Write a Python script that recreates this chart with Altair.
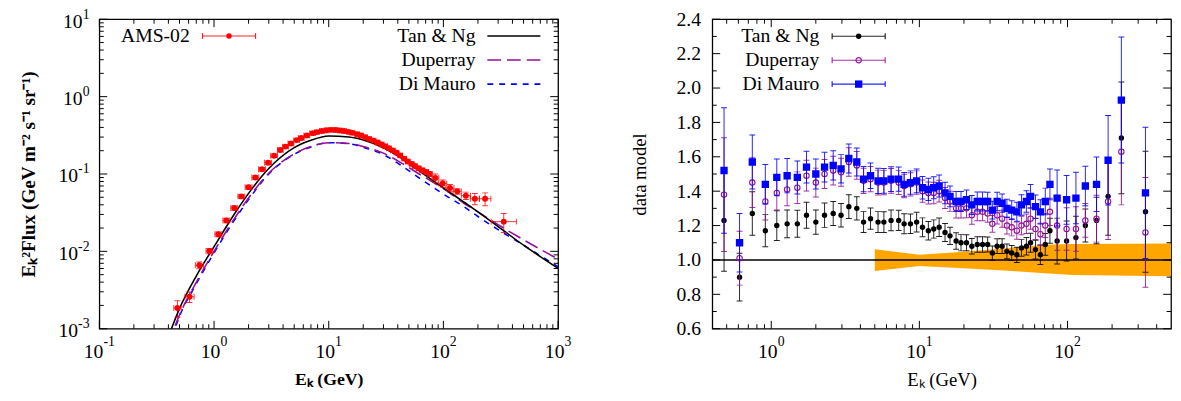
import altair as alt
import pandas as pd

FONT = "Liberation Serif"
RED = "#ff0000"
PURPLE = "#94109a"
BLUE = "#0000ff"
ORANGE = "#ffa500"

# ---------------- data ----------------
energy = [0.480, 0.611, 0.745, 0.912, 1.09, 1.28, 1.50, 1.73, 2.00, 2.29, 2.62, 2.96, 3.34,
          3.78, 4.20, 4.68, 5.26, 5.76, 6.44, 7.25, 7.89, 8.71, 9.58, 10.5, 11.5, 12.5, 13.6,
          14.9, 16.1, 17.7, 19.1, 20.8, 22.6, 24.6, 26.7, 28.9, 31.1, 33.5, 36.2, 39.0, 42.0,
          45.5, 48.9, 52.8, 56.3, 60.8, 65.6, 70.8, 76.1, 85.1, 98.6, 114, 132, 157, 188, 231, 336]
flux = [1.85e-3, 2.59e-3, 6.6e-3, 0.0101, 0.0166, 0.0251, 0.0363, 0.0513, 0.0676, 0.0902,
        0.115, 0.140, 0.172, 0.204, 0.226, 0.248, 0.274, 0.292, 0.314, 0.337, 0.348, 0.359,
        0.368, 0.372, 0.371, 0.365, 0.359, 0.350, 0.340, 0.327, 0.315, 0.300, 0.284, 0.270,
        0.255, 0.241, 0.228, 0.215, 0.202, 0.189, 0.174, 0.158, 0.145, 0.135, 0.127, 0.119,
        0.112, 0.106, 0.100, 0.089, 0.0755, 0.066, 0.0596, 0.0525, 0.0479, 0.0479, 0.0242]
rel_err = [0.24, 0.155, 0.10, 0.08, 0.072, 0.067, 0.065, 0.06, 0.058, 0.056, 0.055, 0.054, 0.053,
           0.052, 0.05, 0.05, 0.05, 0.049, 0.049, 0.048, 0.048, 0.047, 0.047, 0.046, 0.046, 0.045,
           0.045, 0.045, 0.044, 0.043, 0.043, 0.042, 0.042, 0.041, 0.041, 0.040, 0.040, 0.040,
           0.040, 0.041, 0.042, 0.043, 0.045, 0.047, 0.05, 0.052, 0.055, 0.058, 0.062, 0.12,
           0.105, 0.11, 0.08, 0.11, 0.165, 0.19, 0.275]
xerr_dex = [0.032, 0.04, 0.035, 0.03, 0.03, 0.03, 0.03, 0.03, 0.03, 0.03, 0.03, 0.03, 0.03,
            0.025, 0.025, 0.025, 0.025, 0.025, 0.025, 0.025, 0.02, 0.02, 0.02, 0.02, 0.02, 0.02,
            0.02, 0.02, 0.02, 0.02, 0.02, 0.02, 0.02, 0.02, 0.02, 0.02, 0.02, 0.02, 0.02, 0.02,
            0.02, 0.02, 0.02, 0.02, 0.02, 0.02, 0.02, 0.02, 0.02, 0.03, 0.035, 0.035, 0.035,
            0.04, 0.04, 0.05, 0.11]

ratio_tan = [1.23, 0.90, 1.27, 1.17, 1.20, 1.21, 1.21, 1.26, 1.22, 1.26, 1.27, 1.26, 1.31,
             1.30, 1.22, 1.24, 1.22, 1.22, 1.23, 1.23, 1.21, 1.21, 1.22, 1.19, 1.17, 1.18,
             1.19, 1.16, 1.14, 1.11, 1.10, 1.10, 1.08, 1.09, 1.09, 1.09, 1.04, 1.08, 1.08,
             1.05, 1.04, 1.03, 1.07, 1.08, 1.10, 1.06, 1.03, 1.09, 1.17, 1.11, 1.11, 1.13,
             1.20, 1.23, 1.37, 1.71, 1.28]
ratio_dup = [1.38, 1.01, 1.45, 1.34, 1.39, 1.41, 1.42, 1.49, 1.45, 1.50, 1.52, 1.51, 1.57,
             1.55, 1.46, 1.47, 1.45, 1.45, 1.46, 1.45, 1.43, 1.44, 1.45, 1.40, 1.39, 1.39,
             1.40, 1.36, 1.34, 1.30, 1.30, 1.30, 1.26, 1.28, 1.28, 1.27, 1.21, 1.26, 1.24,
             1.20, 1.19, 1.17, 1.20, 1.21, 1.24, 1.18, 1.15, 1.20, 1.28, 1.20, 1.18, 1.18,
             1.23, 1.24, 1.34, 1.63, 1.16]
ratio_dim = [1.52, 1.10, 1.57, 1.44, 1.48, 1.49, 1.48, 1.54, 1.50, 1.54, 1.55, 1.53, 1.59,
             1.57, 1.47, 1.49, 1.46, 1.46, 1.47, 1.47, 1.44, 1.45, 1.46, 1.42, 1.41, 1.42,
             1.43, 1.39, 1.37, 1.34, 1.34, 1.35, 1.32, 1.34, 1.34, 1.34, 1.29, 1.34, 1.33,
             1.30, 1.29, 1.28, 1.32, 1.34, 1.37, 1.31, 1.28, 1.34, 1.44, 1.36, 1.35, 1.36,
             1.43, 1.44, 1.58, 1.93, 1.39]

model_E = [0.4, 0.5, 0.7, 1, 1.5, 2, 3, 5, 7, 10, 15, 20, 30, 40, 60, 100, 150, 200, 300, 500, 1000]
model_tan = [7.9e-4, 1.82e-3, 4.79e-3, 0.01148, 0.0302, 0.0562, 0.1175, 0.2188, 0.2723, 0.309,
             0.3006, 0.2754, 0.2188, 0.1718, 0.1122, 0.0661, 0.0437, 0.0324, 0.0209, 0.0120, 0.00603]
model_dup = [6.3e-4, 1.51e-3, 3.98e-3, 0.0100, 0.0263, 0.0490, 0.1023, 0.182, 0.2265, 0.254,
             0.248, 0.2265, 0.186, 0.148, 0.1023, 0.0646, 0.0422, 0.0324, 0.0221, 0.0141, 0.00794]
model_dim = [5.6e-4, 1.445e-3, 3.80e-3, 0.00955, 0.0251, 0.0468, 0.100, 0.180, 0.224, 0.254,
             0.2455, 0.2213, 0.178, 0.138, 0.0912, 0.055, 0.038, 0.0282, 0.0191, 0.0120, 0.0063]

band_E = [5, 10, 20, 40, 70, 110, 500]
band_lo = [0.935, 0.965, 0.952, 0.937, 0.922, 0.912, 0.905]
band_hi = [1.062, 1.030, 1.047, 1.070, 1.088, 1.092, 1.095]

xl_ticks = [0.1, 1, 10, 100, 1000]
xl_sups = ["-1", "0", "1", "2", "3"]
yl_ticks = [0.001, 0.01, 0.1, 1, 10]
yl_sups = ["-3", "-2", "-1", "0", "1"]
xr_ticks = [1, 10, 100]
xr_sups = ["0", "1", "2"]
yr_ticks = [0.6, 0.8, 1.0, 1.2, 1.4, 1.6, 1.8, 2.0, 2.2, 2.4]
yr_minor = [0.7, 0.9, 1.1, 1.3, 1.5, 1.7, 1.9, 2.1, 2.3]

W, H = 467, 315
MAJ, MNR = 8, 4.5
LBL, SUP = 20, 14


def log_minors(lo_exp, hi_exp, vmin, vmax):
    out = []
    for d in range(lo_exp, hi_exp + 1):
        for k in range(2, 10):
            v = k * 10.0 ** d
            if vmin < v < vmax:
                out.append(v)
    return out


def sup_width(s):
    return sum(4.7 if ch == "-" else 7.0 for ch in s)


def tick_layers(xs, ys, ax_x, ax_y, xmaj, xmin, ymaj, ymin):
    layers = []
    for vals, L in [(xmaj, MAJ), (xmin, MNR)]:
        base = alt.Chart(pd.DataFrame({"v": vals})).mark_rule(color="black", strokeWidth=1)
        xe = alt.X("v:Q", scale=xs, axis=ax_x)
        layers.append(base.encode(x=xe, y=alt.value(H), y2=alt.value(H - L)))
        layers.append(base.encode(x=xe, y=alt.value(0), y2=alt.value(L)))
    for vals, L in [(ymaj, MAJ), (ymin, MNR)]:
        base = alt.Chart(pd.DataFrame({"v": vals})).mark_rule(color="black", strokeWidth=1)
        ye = alt.Y("v:Q", scale=ys, axis=ax_y)
        layers.append(base.encode(y=ye, x=alt.value(0), x2=alt.value(L)))
        layers.append(base.encode(y=ye, x=alt.value(W), x2=alt.value(W - L)))
    return layers


def xpow_labels(xs, ax_x, ticks, sups):
    layers = []
    for v, s in zip(ticks, sups):
        sw = sup_width(s)
        dx = (2 * LBL * 0.5 - sw) / 2
        df = pd.DataFrame({"v": [v]})
        xe = alt.X("v:Q", scale=xs, axis=ax_x)
        layers.append(alt.Chart(df).mark_text(text="10", align="right", baseline="alphabetic", font=FONT,
                                              fontSize=LBL, dx=dx, color="black").encode(
            x=xe, y=alt.value(H + 29.5)))
        layers.append(alt.Chart(df).mark_text(text=s, align="left", baseline="alphabetic", font=FONT,
                                              fontSize=SUP, dx=dx, color="black").encode(
            x=xe, y=alt.value(H + 18)))
    return layers


def ypow_labels(ys, ax_y, ticks, sups, right_edge=-10):
    layers = []
    for v, s in zip(ticks, sups):
        sw = sup_width(s)
        df = pd.DataFrame({"v": [v]})
        ye = alt.Y("v:Q", scale=ys, axis=ax_y)
        layers.append(alt.Chart(df).mark_text(text="10", align="right", baseline="alphabetic", font=FONT,
                                              fontSize=LBL, dy=8.5, color="black").encode(
            x=alt.value(right_edge - sw), y=ye))
        layers.append(alt.Chart(df).mark_text(text=s, align="right", baseline="middle", font=FONT,
                                              fontSize=SUP, dy=-4.5, color="black").encode(
            x=alt.value(right_edge), y=ye))
    return layers


one = pd.DataFrame({"a": [0]})


def ltext(txt, x, y):
    return alt.Chart(one).mark_text(text=txt, align="right", baseline="middle", font=FONT,
                                    fontSize=20, color="black").encode(x=alt.value(x), y=alt.value(y))


def lhrule(x1, x2, y, color, width=1.2, dash=None, opacity=1.0):
    kw = dict(color=color, strokeWidth=width, opacity=opacity)
    if dash:
        kw["strokeDash"] = dash
    return alt.Chart(one).mark_rule(**kw).encode(x=alt.value(x1), x2=alt.value(x2), y=alt.value(y))


def lvrule(x, y1, y2, color, width=1.2, opacity=1.0):
    return alt.Chart(one).mark_rule(color=color, strokeWidth=width, opacity=opacity).encode(
        x=alt.value(x), y=alt.value(y1), y2=alt.value(y2))


def lpoint(x, y, shape, color, filled, size):
    return alt.Chart(one).mark_point(shape=shape, filled=filled, color=color, size=size, opacity=1,
                                     strokeWidth=1.2).encode(x=alt.value(x), y=alt.value(y))


def legend_errbar(x1, x2, y, color, shape, filled, size, opacity=0.85):
    xm = (x1 + x2) / 2
    return [lhrule(x1, x2, y, color, opacity=opacity), lvrule(x1, y - 3, y + 3, color, opacity=opacity),
            lvrule(x2, y - 3, y + 3, color, opacity=opacity), lpoint(xm, y, shape, color, filled, size)]


# ---------------- left panel ----------------
xs_l = alt.Scale(type="log", domain=[0.1, 1000], nice=False)
ys_l = alt.Scale(type="log", domain=[0.001, 10], nice=False)

ams = pd.DataFrame({"E": energy, "F": flux, "rel": rel_err, "dx": xerr_dex})
ams["F_lo"] = ams["F"] * (1 - ams["rel"])
ams["F_hi"] = ams["F"] * (1 + ams["rel"])
ams["E_lo"] = ams["E"] * 10 ** (-ams["dx"])
ams["E_hi"] = ams["E"] * 10 ** (ams["dx"])

ax_xl = alt.Axis(values=xl_ticks, labels=False, title="Eₖ (GeV)", titleFontWeight="bold",
                 titleFontSize=18, minExtent=30, maxExtent=30, titlePadding=13)
ax_yl = alt.Axis(values=yl_ticks, labels=False, title="Eₖ²Flux (GeV m⁻² s⁻¹ sr⁻¹)",
                 titleFontWeight="bold", titleFontSize=19.5, minExtent=46, maxExtent=46,
                 titlePadding=16.5)

mod = pd.DataFrame({"E": model_E, "tan": model_tan, "dup": model_dup, "dim": model_dim})


def XL(f):
    return alt.X(f, scale=xs_l, axis=ax_xl)


def YL(f):
    return alt.Y(f, scale=ys_l, axis=ax_yl)


left_layers = []
left_layers.append(alt.Chart(ams).mark_rule(color=RED, opacity=0.8, clip=True).encode(
    x=XL("E:Q"), y=YL("F_lo:Q"), y2="F_hi:Q"))
for col, color, dash, width in [("dim", BLUE, [6, 6], 1.6), ("dup", PURPLE, [14, 6], 1.6),
                                ("tan", "black", None, 1.6)]:
    kw = dict(color=color, strokeWidth=width, clip=True, interpolate="monotone")
    if dash:
        kw["strokeDash"] = dash
    left_layers.append(alt.Chart(mod).mark_line(**kw).encode(x=XL("E:Q"), y=YL(f"{col}:Q")))
left_layers.append(alt.Chart(ams).mark_rule(color=RED, opacity=0.8, clip=True).encode(
    x=XL("E_lo:Q"), x2="E_hi:Q", y=YL("F:Q")))
for yc in ["F_lo", "F_hi"]:
    left_layers.append(alt.Chart(ams).mark_tick(orient="horizontal", size=6, thickness=1, color=RED,
                                                opacity=0.8, clip=True).encode(
        x=XL("E:Q"), y=YL(f"{yc}:Q")))
for xc in ["E_lo", "E_hi"]:
    left_layers.append(alt.Chart(ams).mark_tick(orient="vertical", size=6, thickness=1, color=RED,
                                                opacity=0.8, clip=True).encode(
        x=XL(f"{xc}:Q"), y=YL("F:Q")))
left_layers.append(alt.Chart(ams).mark_point(shape="circle", filled=True, color=RED, size=36,
                                             opacity=1, clip=True).encode(x=XL("E:Q"), y=YL("F:Q")))

left_layers += tick_layers(xs_l, ys_l, ax_xl, ax_yl, xl_ticks, log_minors(-1, 2, 0.1, 1000),
                           yl_ticks, log_minors(-3, 0, 0.001, 10))
left_layers += xpow_labels(xs_l, ax_xl, xl_ticks, xl_sups)
left_layers += ypow_labels(ys_l, ax_yl, yl_ticks, yl_sups)

# legends left (pixel positions inside the plot frame)
left_layers.append(ltext("AMS-02", 92, 17))
left_layers += legend_errbar(105, 159, 17, RED, "circle", True, 30)
left_layers.append(ltext("Tan & Ng", 383, 17))
left_layers.append(lhrule(395, 449, 17, "black", width=1.6))
left_layers.append(ltext("Duperray", 383, 41.5))
left_layers.append(lhrule(395, 449, 41.5, PURPLE, width=1.6, dash=[14, 6]))
left_layers.append(ltext("Di Mauro", 383, 66))
left_layers.append(lhrule(395, 449, 66, BLUE, width=1.6, dash=[6, 6]))

left = alt.layer(*left_layers).properties(width=W, height=H)

# ---------------- right panel ----------------
xs_r = alt.Scale(type="log", domain=[0.4, 500], nice=False)
ys_r = alt.Scale(type="linear", domain=[0.6, 2.4], nice=False, zero=False)

ax_xr = alt.Axis(values=xr_ticks, labels=False, title="Eₖ (GeV)", titleFontWeight="normal",
                 titleFontSize=19, minExtent=30, maxExtent=30, titlePadding=13)
ax_yr = alt.Axis(values=yr_ticks, format=".1f", title="data model", titleFontWeight="normal",
                 titleFontSize=19, minExtent=38, maxExtent=38, labelPadding=12, titlePadding=26.5)


def XR(f):
    return alt.X(f, scale=xs_r, axis=ax_xr)


def YR(f):
    return alt.Y(f, scale=ys_r, axis=ax_yr)


band = pd.DataFrame({"E": band_E, "lo": band_lo, "hi": band_hi})
rat = pd.DataFrame({"E": energy, "rel": rel_err, "tan": ratio_tan, "dup": ratio_dup, "dim": ratio_dim})
for c in ["tan", "dup", "dim"]:
    rat[c + "_lo"] = rat[c] * (1 - rat["rel"])
    rat[c + "_hi"] = rat[c] * (1 + rat["rel"])

right_layers = []
right_layers.append(alt.Chart(band).mark_area(color=ORANGE, opacity=1, clip=True).encode(
    x=XR("E:Q"), y=YR("lo:Q"), y2="hi:Q"))
right_layers.append(alt.Chart(pd.DataFrame({"y": [1.0]})).mark_rule(color="black", strokeWidth=1.6).encode(
    y=YR("y:Q")))

series = [("tan", "black", "circle", True, 30), ("dup", PURPLE, "circle", False, 30),
          ("dim", BLUE, "square", True, 56)]
for c, color, shape, filled, size in series:
    right_layers.append(alt.Chart(rat).mark_rule(color=color, opacity=0.85, strokeWidth=1, clip=True).encode(
        x=XR("E:Q"), y=YR(f"{c}_lo:Q"), y2=f"{c}_hi:Q"))
    for yc in [f"{c}_lo", f"{c}_hi"]:
        right_layers.append(alt.Chart(rat).mark_tick(orient="horizontal", size=6, thickness=1, color=color,
                                                     opacity=0.85, clip=True).encode(
            x=XR("E:Q"), y=YR(f"{yc}:Q")))
    right_layers.append(alt.Chart(rat).mark_point(shape=shape, filled=filled, color=color, size=size,
                                                  opacity=1, strokeWidth=1.1, clip=True).encode(
        x=XR("E:Q"), y=YR(f"{c}:Q")))

right_layers += tick_layers(xs_r, ys_r, ax_xr, ax_yr, xr_ticks, log_minors(-1, 2, 0.41, 490),
                            yr_ticks, yr_minor)
right_layers += xpow_labels(xs_r, ax_xr, xr_ticks, xr_sups)

for lab, y, (c, color, shape, filled, size) in zip(["Tan & Ng", "Duperray", "Di Mauro"],
                                                   [17.3, 41.7, 66], series):
    right_layers.append(ltext(lab, 109, y))
    right_layers += legend_errbar(122, 176, y, color, shape, filled, size)

right = alt.layer(*right_layers).properties(width=W, height=H)

chart = alt.hconcat(left, right, spacing=57).properties(
    padding={"left": 9, "top": -5, "right": 0, "bottom": 0}
).configure_view(stroke="black", strokeWidth=1.3).configure_axis(
    labelFont=FONT, labelFontSize=20, titleFont=FONT, ticks=False, tickSize=0,
    domain=False, grid=False, labelColor="black", titleColor="black", labelFlush=False
)

chart.save("out.html", embed_options={"renderer": "svg", "actions": False})
